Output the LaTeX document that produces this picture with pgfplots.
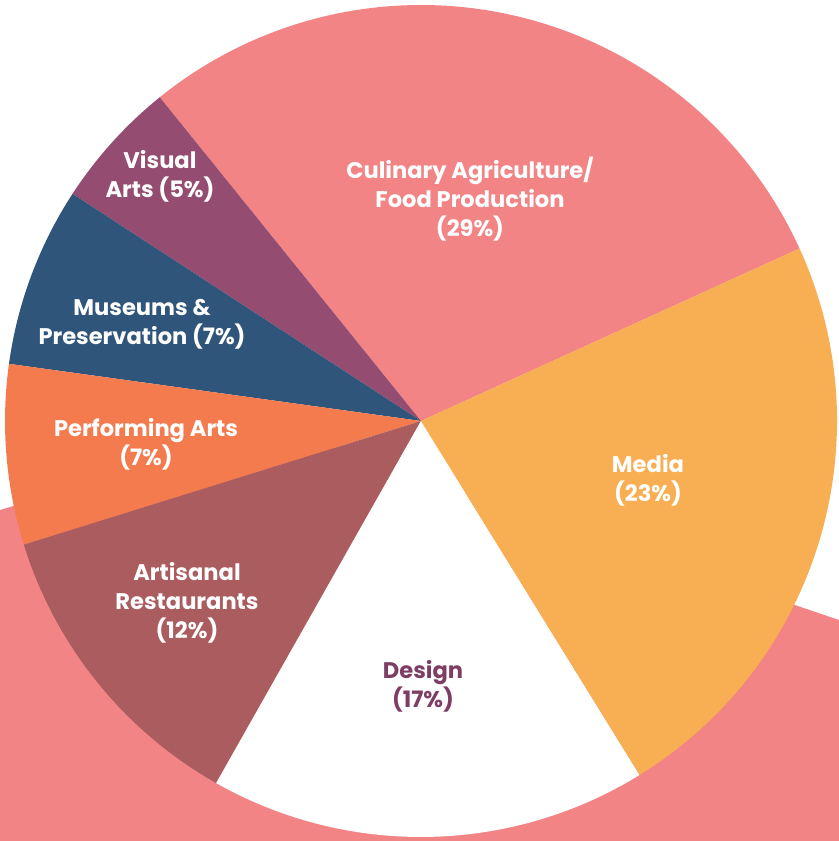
\documentclass[border=0pt]{standalone}
\usepackage{fontspec}
\setmainfont{Poppins}
\usepackage{pgfplots}
\pgfplotsset{compat=1.18}
\definecolor{cCul}{HTML}{F28486}
\definecolor{cMed}{HTML}{F8AE52}
\definecolor{cDes}{HTML}{FFFFFF}
\definecolor{cArt}{HTML}{AA5C5E}
\definecolor{cPerf}{HTML}{F47B4D}
\definecolor{cMus}{HTML}{2F557B}
\definecolor{cVis}{HTML}{954C71}
\definecolor{cDesTxt}{HTML}{7E3D63}

\begin{document}
\begin{tikzpicture}
  \begin{axis}[
      x=0.5pt, y=0.5pt,
      xmin=0, xmax=839, ymin=0, ymax=841,
      hide axis,
    ]
    % pink band behind the lower half
    \addplot[draw=none, fill=cCul] coordinates {
      (0,331) (274,413) (839,221) (839,0) (0,0)
    } -- cycle;

    % wedges, counter-clockwise from the Culinary/Media border
    \def\R{208pt}
    \gdef\angA{24.5}
    \foreach \p/\c in {29/cCul, 5/cVis, 7/cMus, 7/cPerf, 12/cArt, 17/cDes, 23/cMed}{
      \pgfmathsetmacro\angB{\angA+3.6*\p}
      \edef\wedge{\noexpand\fill[\c] (axis cs:421,420) -- ++(\angA:\R)
        arc[start angle=\angA, end angle=\angB, radius=\R] -- cycle;}
      \wedge
      \global\let\angA\angB
    }

    \tikzset{lbl/.style={font=\bfseries\fontsize{11.3}{14.5}\selectfont,
        align=center, inner sep=0pt, text=white}}
    \node[lbl] at (axis cs:470,642) {Culinary Agriculture/\\Food Production\\(29\%)};
    \node[lbl] at (axis cs:648,361) {Media\\(23\%)};
    \node[lbl, text=cDesTxt] at (axis cs:423,155) {Design\\(17\%)};
    \node[lbl] at (axis cs:187,238) {Artisanal\\Restaurants\\(12\%)};
    \node[lbl] at (axis cs:146,397) {Performing Arts\\(7\%)};
    \node[lbl] at (axis cs:142,517) {Museums \&\\Preservation (7\%)};
    \node[lbl] at (axis cs:160,665) {Visual\\Arts (5\%)};
  \end{axis}
\end{tikzpicture}
\end{document}
